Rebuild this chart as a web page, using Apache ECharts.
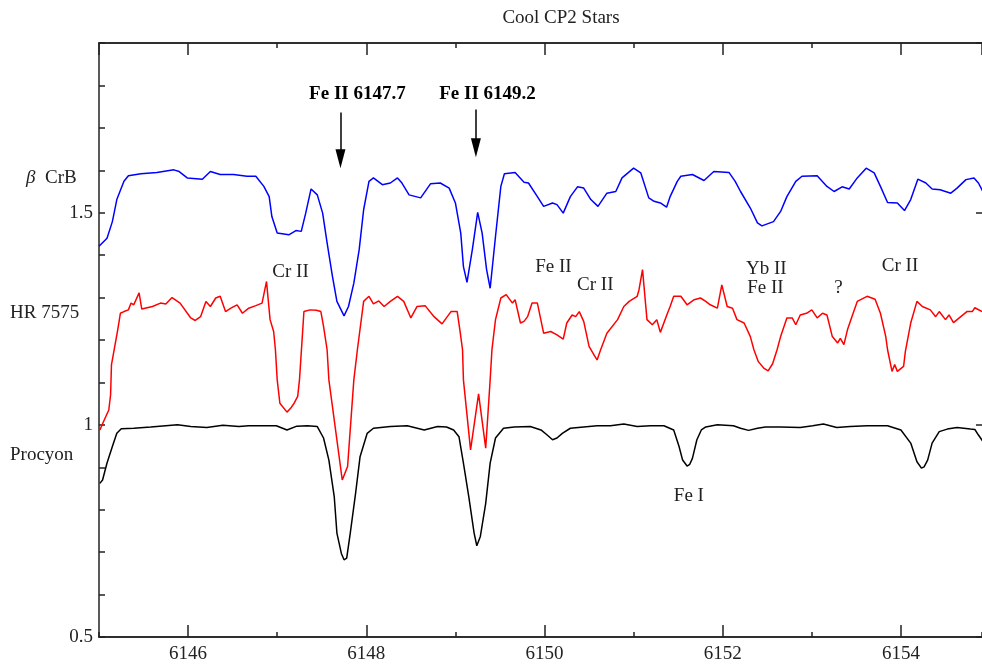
<!DOCTYPE html>
<html>
<head>
<meta charset="utf-8">
<script src="https://cdn.jsdelivr.net/npm/echarts@6/dist/echarts.min.js"></script>
<style>
  html, body { margin: 0; padding: 0; background: #fff; }
  #chart { width: 982px; height: 666px; }
</style>
</head>
<body>
<div id="chart"></div>
<script>
// beta CrB (blue)
const crbWave = [6145.00, 6145.09, 6145.15, 6145.20, 6145.28, 6145.33, 6145.47, 6145.65, 6145.84, 6145.90,
  6145.99, 6146.16, 6146.25, 6146.36, 6146.51, 6146.66, 6146.76, 6146.85, 6146.91, 6146.94,
  6147.00, 6147.13, 6147.21, 6147.27, 6147.32, 6147.38, 6147.45, 6147.51, 6147.56, 6147.62,
  6147.67, 6147.75, 6147.80, 6147.86, 6147.92, 6147.97, 6148.03, 6148.08, 6148.18, 6148.27,
  6148.35, 6148.40, 6148.48, 6148.61, 6148.72, 6148.83, 6148.93, 6149.00, 6149.06, 6149.09,
  6149.13, 6149.19, 6149.25, 6149.30, 6149.35, 6149.39, 6149.45, 6149.51, 6149.55, 6149.67,
  6149.77, 6149.82, 6149.92, 6149.99, 6150.09, 6150.14, 6150.21, 6150.29, 6150.37, 6150.44,
  6150.52, 6150.60, 6150.70, 6150.80, 6150.87, 6151.00, 6151.08, 6151.17, 6151.23, 6151.30,
  6151.37, 6151.41, 6151.49, 6151.53, 6151.66, 6151.79, 6151.90, 6152.07, 6152.14, 6152.20,
  6152.31, 6152.39, 6152.44, 6152.57, 6152.65, 6152.72, 6152.82, 6152.89, 6153.06, 6153.17,
  6153.25, 6153.34, 6153.42, 6153.51, 6153.61, 6153.70, 6153.77, 6153.85, 6153.96, 6154.04,
  6154.11, 6154.19, 6154.28, 6154.35, 6154.44, 6154.56, 6154.63, 6154.73, 6154.82, 6154.87, 6154.92];
const crbFlux = [1.421, 1.440, 1.479, 1.531, 1.574, 1.587, 1.592, 1.595, 1.601, 1.597,
  1.582, 1.579, 1.597, 1.590, 1.590, 1.586, 1.586, 1.562, 1.538, 1.491,
  1.452, 1.448, 1.458, 1.456, 1.499, 1.556, 1.542, 1.499, 1.429, 1.350,
  1.291, 1.257, 1.279, 1.334, 1.413, 1.507, 1.574, 1.582, 1.566, 1.570,
  1.582, 1.570, 1.542, 1.535, 1.568, 1.570, 1.558, 1.523, 1.452, 1.373,
  1.336, 1.413, 1.501, 1.452, 1.366, 1.322, 1.444, 1.562, 1.592, 1.595,
  1.572, 1.570, 1.538, 1.515, 1.523, 1.519, 1.499, 1.538, 1.561, 1.558,
  1.531, 1.515, 1.546, 1.550, 1.582, 1.605, 1.594, 1.535, 1.527, 1.523,
  1.513, 1.538, 1.574, 1.586, 1.590, 1.576, 1.597, 1.595, 1.574, 1.550,
  1.511, 1.476, 1.469, 1.479, 1.503, 1.538, 1.574, 1.586, 1.587, 1.562,
  1.550, 1.561, 1.556, 1.582, 1.605, 1.594, 1.562, 1.524, 1.523, 1.505,
  1.531, 1.579, 1.570, 1.556, 1.554, 1.546, 1.558, 1.578, 1.582, 1.570, 1.550];

// HR 7575 (red)
const hrWave = [6145.01, 6145.06, 6145.11, 6145.13, 6145.14, 6145.17, 6145.21, 6145.24, 6145.28, 6145.33,
  6145.36, 6145.39, 6145.45, 6145.48, 6145.60, 6145.69, 6145.75, 6145.82, 6145.91, 6146.03,
  6146.08, 6146.14, 6146.20, 6146.25, 6146.31, 6146.36, 6146.42, 6146.48, 6146.55, 6146.61,
  6146.68, 6146.76, 6146.83, 6146.88, 6146.92, 6146.96, 6146.98, 6147.00, 6147.03, 6147.11,
  6147.15, 6147.19, 6147.23, 6147.25, 6147.30, 6147.37, 6147.44, 6147.49, 6147.52, 6147.56,
  6147.58, 6147.73, 6147.79, 6147.86, 6147.90, 6147.97, 6148.03, 6148.08, 6148.14, 6148.20,
  6148.27, 6148.35, 6148.42, 6148.50, 6148.57, 6148.66, 6148.76, 6148.85, 6148.95, 6149.02,
  6149.05, 6149.08, 6149.09, 6149.17, 6149.26, 6149.34, 6149.39, 6149.41, 6149.45, 6149.51,
  6149.57, 6149.64, 6149.67, 6149.73, 6149.77, 6149.81, 6149.86, 6149.92, 6149.99, 6150.07,
  6150.14, 6150.21, 6150.25, 6150.31, 6150.35, 6150.39, 6150.44, 6150.50, 6150.56, 6150.59,
  6150.63, 6150.70, 6150.82, 6150.89, 6150.95, 6151.04, 6151.06, 6151.10, 6151.15, 6151.21,
  6151.26, 6151.30, 6151.38, 6151.41, 6151.45, 6151.53, 6151.60, 6151.68, 6151.75, 6151.81,
  6151.86, 6151.94, 6151.99, 6152.05, 6152.11, 6152.16, 6152.24, 6152.31, 6152.35, 6152.40,
  6152.46, 6152.51, 6152.56, 6152.61, 6152.65, 6152.72, 6152.78, 6152.82, 6152.87, 6152.94,
  6153.00, 6153.06, 6153.12, 6153.17, 6153.23, 6153.29, 6153.32, 6153.36, 6153.40, 6153.45,
  6153.51, 6153.62, 6153.71, 6153.77, 6153.83, 6153.85, 6153.90, 6153.93, 6153.96, 6154.03,
  6154.05, 6154.11, 6154.18, 6154.24, 6154.33, 6154.39, 6154.43, 6154.50, 6154.54, 6154.59,
  6154.74, 6154.80, 6154.83, 6154.91];
const hrFlux = [0.988, 1.012, 1.035, 1.071, 1.142, 1.177, 1.224, 1.263, 1.267, 1.271,
  1.287, 1.283, 1.311, 1.273, 1.279, 1.287, 1.285, 1.300, 1.287, 1.252,
  1.246, 1.255, 1.291, 1.279, 1.299, 1.303, 1.267, 1.275, 1.283, 1.263,
  1.275, 1.281, 1.287, 1.338, 1.248, 1.220, 1.177, 1.106, 1.051, 1.030,
  1.039, 1.051, 1.067, 1.106, 1.267, 1.271, 1.270, 1.267, 1.232, 1.177,
  1.106, 0.870, 0.902, 1.106, 1.177, 1.291, 1.303, 1.285, 1.292, 1.279,
  1.291, 1.303, 1.291, 1.252, 1.279, 1.281, 1.255, 1.238, 1.267, 1.267,
  1.224, 1.177, 1.106, 0.941, 1.073, 0.945, 1.106, 1.177, 1.248, 1.299,
  1.307, 1.287, 1.295, 1.240, 1.244, 1.255, 1.287, 1.287, 1.216, 1.220,
  1.212, 1.202, 1.240, 1.259, 1.255, 1.267, 1.244, 1.185, 1.163, 1.153,
  1.177, 1.216, 1.248, 1.279, 1.291, 1.303, 1.318, 1.366, 1.248, 1.236,
  1.248, 1.218, 1.263, 1.279, 1.303, 1.303, 1.283, 1.295, 1.299, 1.291,
  1.283, 1.275, 1.330, 1.279, 1.275, 1.248, 1.240, 1.208, 1.177, 1.149,
  1.134, 1.127, 1.144, 1.177, 1.208, 1.252, 1.252, 1.236, 1.259, 1.263,
  1.271, 1.252, 1.263, 1.259, 1.208, 1.193, 1.204, 1.189, 1.224, 1.255,
  1.291, 1.303, 1.296, 1.263, 1.208, 1.177, 1.126, 1.142, 1.126, 1.138,
  1.173, 1.240, 1.291, 1.279, 1.271, 1.255, 1.267, 1.248, 1.259, 1.241,
  1.267, 1.267, 1.276, 1.267];

// Procyon (black)
const procyonWave = [6145.01, 6145.04, 6145.09, 6145.15, 6145.20, 6145.25, 6145.39, 6145.58, 6145.75, 6145.88,
  6146.03, 6146.21, 6146.39, 6146.57, 6146.68, 6146.87, 6146.99, 6147.11, 6147.22, 6147.34,
  6147.45, 6147.52, 6147.58, 6147.64, 6147.67, 6147.72, 6147.75, 6147.78, 6147.82, 6147.88,
  6147.93, 6148.01, 6148.08, 6148.27, 6148.46, 6148.65, 6148.80, 6148.90, 6148.98, 6149.04,
  6149.09, 6149.15, 6149.21, 6149.24, 6149.28, 6149.34, 6149.39, 6149.45, 6149.54, 6149.66,
  6149.84, 6149.96, 6150.03, 6150.09, 6150.14, 6150.20, 6150.29, 6150.44, 6150.59, 6150.74,
  6150.89, 6151.04, 6151.19, 6151.34, 6151.45, 6151.51, 6151.55, 6151.60, 6151.63, 6151.66,
  6151.71, 6151.76, 6151.81, 6151.94, 6152.12, 6152.20, 6152.29, 6152.39, 6152.48, 6152.65,
  6152.87, 6153.01, 6153.13, 6153.28, 6153.43, 6153.62, 6153.85, 6154.00, 6154.11, 6154.18,
  6154.23, 6154.26, 6154.30, 6154.35, 6154.43, 6154.52, 6154.63, 6154.78, 6154.83, 6154.87, 6154.92];
const procyonFlux = [0.862, 0.870, 0.910, 0.949, 0.980, 0.991, 0.992, 0.995, 0.998, 1.000,
  0.996, 0.994, 0.999, 0.996, 0.998, 0.998, 0.998, 0.988, 0.997, 0.998,
  0.996, 0.969, 0.917, 0.831, 0.745, 0.697, 0.682, 0.686, 0.745, 0.839,
  0.925, 0.980, 0.992, 0.996, 0.998, 0.988, 0.996, 0.995, 0.988, 0.972,
  0.910, 0.831, 0.745, 0.715, 0.737, 0.815, 0.910, 0.969, 0.992, 0.995,
  0.996, 0.988, 0.976, 0.965, 0.969, 0.980, 0.992, 0.995, 0.998, 0.998,
  1.002, 0.996, 0.998, 0.998, 0.988, 0.949, 0.917, 0.903, 0.907, 0.921,
  0.965, 0.988, 0.995, 1.000, 0.998, 0.992, 0.987, 0.992, 0.995, 0.995,
  0.994, 0.998, 1.002, 0.994, 0.996, 0.998, 0.998, 0.988, 0.957, 0.913,
  0.898, 0.901, 0.917, 0.957, 0.984, 0.990, 0.994, 0.990, 0.989, 0.976, 0.961];

// line identifications
const lineNames = ['Cr II', 'Fe II', 'Cr II', 'Yb II', 'Fe II', '?', 'Cr II', 'Fe I'];
const lineWave = [6147.15, 6150.10, 6150.57, 6152.49, 6152.48, 6153.30, 6153.99, 6151.62];
const lineFlux = [1.361, 1.373, 1.330, 1.368, 1.323, 1.323, 1.375, 0.833];

// marked Fe II lines with arrows
const markNames = ['Fe II 6147.7', 'Fe II 6149.2'];
const markWave = [6147.90, 6149.36];
const markFlux = [1.780, 1.780];
const arrowWave = [6147.71, 6149.23];
const arrowTop = [1.736, 1.743];
const arrowEnd = [1.627, 1.653];

const FONT = "'Liberation Serif', 'DejaVu Serif', serif";
const INK = '#222';

const zip = (xs, ys) => xs.map((x, i) => [x, ys[i]]);

const chart = echarts.init(document.getElementById('chart'), null, { renderer: 'canvas' });

// the plotted window is cut at the right edge of the figure
const baseX = {
  type: 'value', min: 6145, max: 6154.91,
  splitLine: { show: false },
  axisLine: { show: true, lineStyle: { color: INK, width: 1.5 } }
};

const option = {
  animation: false,
  backgroundColor: '#fff',
  grid: { left: 99, right: 0, top: 43, bottom: 29, containLabel: false },
  xAxis: [
    Object.assign({}, baseX, {
      position: 'bottom', splitNumber: 5,
      axisTick: { inside: true, length: 12, lineStyle: { color: INK, width: 1.5 } },
      axisLabel: {
        showMinLabel: false, showMaxLabel: false, margin: 8,
        fontFamily: FONT, fontSize: 19, color: INK,
        formatter: v => String(Math.round(v))
      }
    }),
    Object.assign({}, baseX, {
      position: 'bottom', interval: 1,
      axisTick: { inside: true, length: 5, lineStyle: { color: INK, width: 1.5 } },
      axisLabel: { show: false }
    }),
    Object.assign({}, baseX, {
      position: 'top', splitNumber: 5,
      axisTick: { inside: true, length: 12, lineStyle: { color: INK, width: 1.5 } },
      axisLabel: { show: false }
    }),
    Object.assign({}, baseX, {
      position: 'top', interval: 1,
      axisTick: { inside: true, length: 5, lineStyle: { color: INK, width: 1.5 } },
      axisLabel: { show: false }
    })
  ],
  yAxis: [
    {
      type: 'value', min: 0.5, max: 1.9, interval: 0.1, position: 'left',
      splitLine: { show: false },
      axisLine: { show: true, lineStyle: { color: INK, width: 1.5 } },
      axisTick: { inside: true, length: 6, lineStyle: { color: INK, width: 1.5 } },
      axisLabel: {
        margin: 6, fontFamily: FONT, fontSize: 19, color: INK,
        formatter: v => {
          const r = Math.round(v * 10) / 10;
          return r === 0.5 ? '0.5' : r === 1 ? '1' : r === 1.5 ? '1.5' : '';
        }
      }
    },
    {
      type: 'value', min: 0.5, max: 1.9, interval: 0.5, position: 'right',
      splitLine: { show: false },
      axisLine: { show: false },
      axisTick: { show: true, inside: true, length: 6, lineStyle: { color: INK, width: 1.5 } },
      axisLabel: { show: false }
    }
  ],
  graphic: [
    { type: 'text', x: 561, y: 18, style: { text: 'Cool CP2 Stars', font: '19px ' + FONT, fill: INK, align: 'center', verticalAlign: 'middle' } },
    { type: 'text', x: 26, y: 178, style: { text: 'β', font: 'italic 19px ' + FONT, fill: INK, verticalAlign: 'middle' } },
    { type: 'text', x: 45, y: 178, style: { text: 'CrB', font: '19px ' + FONT, fill: INK, verticalAlign: 'middle' } },
    { type: 'text', x: 10, y: 313, style: { text: 'HR 7575', font: '19px ' + FONT, fill: INK, verticalAlign: 'middle' } },
    { type: 'text', x: 10, y: 455, style: { text: 'Procyon', font: '19px ' + FONT, fill: INK, verticalAlign: 'middle' } }
  ],
  series: [
    {
      name: 'Procyon', type: 'line', data: zip(procyonWave, procyonFlux),
      showSymbol: false, lineStyle: { color: '#000', width: 1.5 }, z: 3
    },
    {
      name: 'HR 7575', type: 'line', data: zip(hrWave, hrFlux),
      showSymbol: false, lineStyle: { color: '#ff0000', width: 1.5 }, z: 4
    },
    {
      name: 'beta CrB', type: 'line', data: zip(crbWave, crbFlux),
      showSymbol: false, lineStyle: { color: '#0000ff', width: 1.5 }, z: 5
    },
    {
      name: 'lines', type: 'scatter', silent: true, symbolSize: 1,
      itemStyle: { color: 'rgba(0,0,0,0)', opacity: 1 },
      label: {
        show: true, position: 'inside', formatter: p => p.data.name,
        fontFamily: FONT, fontSize: 19, color: INK, opacity: 1, textBorderWidth: 0
      },
      data: lineNames.map((n, i) => ({ name: n, value: [lineWave[i], lineFlux[i]] })),
      z: 6
    },
    {
      name: 'marked', type: 'scatter', silent: true, symbolSize: 1,
      itemStyle: { color: 'rgba(0,0,0,0)', opacity: 1 },
      label: {
        show: true, position: 'inside', formatter: p => p.data.name,
        fontFamily: FONT, fontSize: 19, fontWeight: 'bold', color: '#000', opacity: 1, textBorderWidth: 0
      },
      data: markNames.map((n, i) => ({ name: n, value: [markWave[i], markFlux[i]] })),
      markLine: {
        silent: true, animation: false,
        symbol: ['none', 'triangle'], symbolSize: [10, 19],
        label: { show: false },
        lineStyle: { color: '#000', width: 1.5, type: 'solid' },
        data: arrowWave.map((w, i) => [{ coord: [w, arrowTop[i]] }, { coord: [w, arrowEnd[i]] }])
      },
      z: 6
    }
  ]
};

chart.setOption(option);
</script>
</body>
</html>
